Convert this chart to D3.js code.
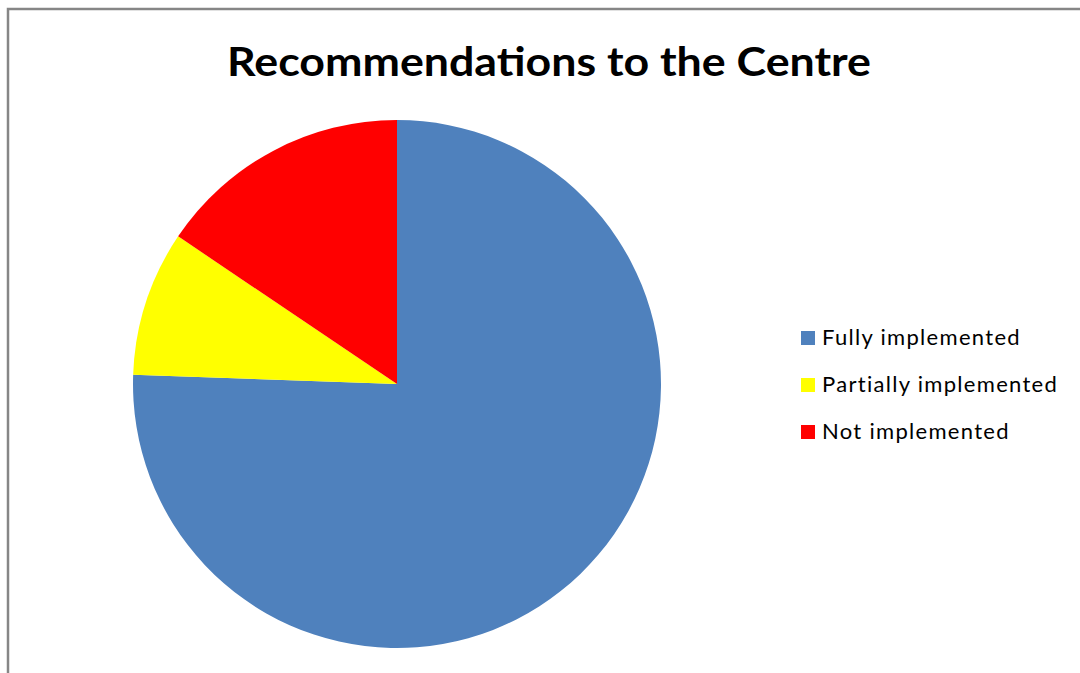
<!DOCTYPE html>
<html>
<head>
<meta charset="utf-8">
<script src="https://cdn.jsdelivr.net/npm/d3@7"></script>
<style>
  body { margin: 0; background: #fff; }
  svg { display: block; }
</style>
</head>
<body>
<div id="chart"></div>
<script>
// chart data
var categories = ['Fully implemented', 'Partially implemented', 'Not implemented'];
var values = [34, 4, 7];
var colors = ['#4f81bd', '#ffff00', '#ff0000'];
var title = 'Recommendations to the Centre';

var width = 1080, height = 673;

var svg = d3.select('#chart')
	.append('svg')
		.attr('width', width)
		.attr('height', height);

// outer frame (only top and left edges are visible in the crop)
svg.append('rect')
	.attr('x', 8)
	.attr('y', 9)
	.attr('width', width + 20)
	.attr('height', height + 20)
	.style('fill', 'none')
	.style('stroke', '#868686')
	.style('stroke-width', 2.5);

svg.append('text')
	.text(title)
	.attr('x', 549)
	.attr('y', 76)
	.attr('text-anchor', 'middle')
	.attr('textLength', 644)
	.attr('lengthAdjust', 'spacingAndGlyphs')
	.style('font-family', 'Lato, "Open Sans", sans-serif')
	.style('font-weight', 'bold')
	.style('font-size', '40px')
	.style('fill', '#000');

// PIE
var cx = 397, cy = 384, radius = 264;

var pie = d3.pie()
	.sort(null)
	.value(d => d);

var arc = d3.arc()
	.innerRadius(0)
	.outerRadius(radius);

var pieG = svg.append('g')
	.attr('transform', `translate(${cx},${cy})`);

pieG.selectAll('path')
	.data(pie(values))
	.enter()
	.append('path')
		.attr('d', arc)
		.style('fill', (d, i) => colors[i]);

// LEGEND
var legendY = d3.scalePoint()
	.domain(categories)
	.range([338, 432]);

var legend = svg.append('g').attr('class', 'legend');

var items = legend.selectAll('g')
	.data(categories)
	.enter()
	.append('g')
		.attr('transform', d => `translate(801,${legendY(d)})`);

items.append('rect')
	.attr('x', 0)
	.attr('y', -7)
	.attr('width', 14)
	.attr('height', 14)
	.style('fill', (d, i) => colors[i]);

items.append('text')
	.text(d => d)
	.attr('x', 21)
	.attr('y', 7)
	.style('font-family', 'Lato, "Open Sans", sans-serif')
	.style('font-size', '22px')
	.style('letter-spacing', '1.3px')
	.style('fill', '#000');
</script>
</body>
</html>
